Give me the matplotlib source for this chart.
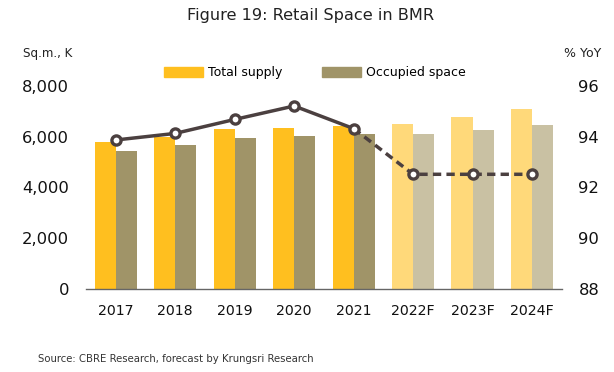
import numpy as np
import matplotlib.pyplot as plt
from matplotlib.patches import Patch

years = ['2017', '2018', '2019', '2020', '2021', '2022F', '2023F', '2024F']
total_supply = [5800, 6000, 6290, 6360, 6440, 6520, 6770, 7095]
occupied = [5450, 5680, 5930, 6040, 6090, 6120, 6280, 6465]
occupancy = [93.87, 94.13, 94.68, 95.21, 94.32, 92.52, 92.52, 92.52]
n_actual = 5  # first 5 years actual, rest forecast

c_supply = '#FFBF1F'
c_occ = '#A09468'
c_supply_f = '#FFD97A'
c_occ_f = '#C9C1A3'
c_line = '#4B4040'

plt.rcParams['font.family'] = ['DejaVu Sans']

fig = plt.figure(figsize=(6.14, 3.72), dpi=100)
ax = fig.add_axes([0.140, 0.223, 0.775, 0.546])
ax2 = ax.twinx()

x = np.arange(len(years))
w = 0.355
sup_cols = [c_supply if i < n_actual else c_supply_f for i in range(len(years))]
occ_cols = [c_occ if i < n_actual else c_occ_f for i in range(len(years))]
ax.bar(x - w / 2, total_supply, w, color=sup_cols)
ax.bar(x + w / 2, occupied, w, color=occ_cols)

ax.set_ylim(0, 8000)
ax.set_xlim(-0.5, len(years) - 0.5)
ax.set_yticks([0, 2000, 4000, 6000, 8000])
ax.set_yticklabels(['0', '2,000', '4,000', '6,000', '8,000'])
ax.set_xticks(x)
ax.set_xticklabels(years)
ax.tick_params(axis='y', length=0, labelsize=11.8, colors='#111111', pad=12)
ax.tick_params(axis='x', length=0, labelsize=10.2, colors='#111111', pad=11)

ax2.set_ylim(88, 96)
ax2.set_yticks([88, 90, 92, 94, 96])
ax2.tick_params(axis='y', length=0, labelsize=11.8, colors='#111111', pad=12)

for a in (ax, ax2):
    for s in ['top', 'left', 'right', 'bottom']:
        a.spines[s].set_visible(False)
ax.spines['bottom'].set_visible(True)
ax.spines['bottom'].set_color('#666666')
ax.spines['bottom'].set_linewidth(1)

# occupancy line: solid for actual, dashed for forecast
ax2.plot(x[:n_actual], occupancy[:n_actual], color=c_line, lw=2.5, zorder=3)
ax2.plot(x[n_actual - 1:], occupancy[n_actual - 1:], color=c_line, lw=2.5,
         ls=(0, (2.4, 1.5)), zorder=3)
ax2.plot(x, occupancy, ls='none', marker='o', ms=6.6, mfc='white', mec=c_line,
         mew=2.4, zorder=4)

handles = [Patch(color=c_supply), Patch(color=c_occ)]
fig.legend(handles, ['Total supply', 'Occupied space'], loc='center left',
           bbox_to_anchor=(164 / 614, 0.804), ncol=2, frameon=False, fontsize=9,
           handlelength=3.1, handleheight=0.75, columnspacing=3.2,
           handletextpad=0.4, borderpad=0, borderaxespad=0)

fig.text(0.505, 0.957, 'Figure 19: Retail Space in BMR', ha='center', va='center',
         fontsize=11.6, color='#222222')
fig.text(0.038, 0.857, 'Sq.m., K', ha='left', va='center', fontsize=8.6, color='#222222')
fig.text(0.979, 0.857, '% YoY', ha='right', va='center', fontsize=9, color='#222222')
fig.text(0.062, 0.035, 'Source: CBRE Research, forecast by Krungsri Research',
         ha='left', va='center', fontsize=7.3, color='#333333')

fig.savefig('out.png', dpi=100)
